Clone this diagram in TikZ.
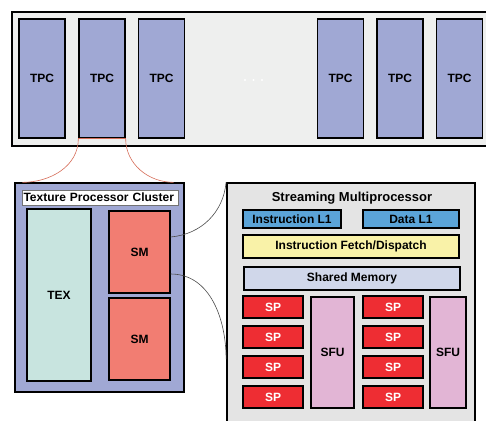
\documentclass[tikz,border=0pt]{standalone}
\usepackage{fontspec}
\setmainfont{Liberation Sans}
\usepackage{tikz}
\usetikzlibrary{positioning,calc}
\definecolor{gpuBack}  {RGB}{238,239,238}
\definecolor{tpcBlue}  {RGB}{160,168,212}
\definecolor{texGreen} {RGB}{200,228,223}
\definecolor{smRed}    {RGB}{242,125,114}
\definecolor{smpGray}  {RGB}{228,228,228}
\definecolor{cacheBlue}{RGB}{91,164,216}
\definecolor{fetchYel} {RGB}{249,242,168}
\definecolor{shmBlue}  {RGB}{208,215,234}
\definecolor{spRed}    {RGB}{238,45,51}
\definecolor{sfuPink}  {RGB}{226,181,213}
\definecolor{zoomRed}  {RGB}{214,110,90}

\begin{document}
\begin{tikzpicture}[x=1pt,y=-1pt,
          blk/.style={draw=black,line width=1.3pt,inner sep=0pt,
                      font=\bfseries\fontsize{12}{12}\selectfont},
          tpc/.style={blk,fill=tpcBlue,minimum width=46pt,minimum height=119pt},
          sm/.style={blk,fill=smRed,minimum width=61pt,minimum height=82pt},
          sp/.style={blk,fill=spRed,text=white,minimum width=60pt,minimum height=22pt},
          sfu/.style={blk,fill=sfuPink,minimum height=111pt}]
  \useasboundingbox (0,0) rectangle (486,420);
  % whole chip
  \node[draw=black,line width=1.5pt,fill=gpuBack,inner sep=0pt,
        minimum width=500pt,minimum height=134pt] (gpu) at (262,79) {};
  \foreach \i/\x in {1/42,2/102,3/161.5,4/340.5,5/400,6/459.5}
    \node[tpc] (tpc\i) at (\x,78.5) {TPC};
  \foreach \x in {245,253.5,262}
    \fill[white] (\x,80) circle (1.2pt);
  % one cluster
  \node[blk,fill=tpcBlue,minimum width=169pt,minimum height=209pt] (tpcc) at (99.5,287.5) {};
  \node[draw=black!55,line width=0.8pt,fill=white,inner xsep=1.5pt,inner ysep=0pt,
        text width=153pt,minimum height=15pt,align=left,
        font=\bfseries\fontsize{12}{12}\selectfont] (ttl) at (100,197.5) {Texture Processor Cluster};
  \node[blk,fill=texGreen,minimum width=64pt,minimum height=172pt] (tex) at (59,295) {TEX};
  \node[sm] (sm1) at (139.5,252) {SM};
  \node[sm] (sm2) at (139.5,339) {SM};
  % streaming multiprocessor
  \node[blk,fill=smpGray,line width=1.8pt,minimum width=248pt,minimum height=280pt] (smp) at (351,323) {};
  \node[font=\bfseries\fontsize{13}{13}\selectfont,inner sep=0pt] (smpt) at (352,198) {Streaming Multiprocessor};
  \node[blk,fill=cacheBlue,minimum width=98pt,minimum height=18pt] (il1) at (292,219) {Instruction L1};
  \node[blk,fill=cacheBlue,minimum width=96pt,minimum height=18pt] (dl1) at (411,219) {Data L1};
  \node[blk,fill=fetchYel,minimum width=216pt,minimum height=23pt] (fetch) at (351,246.5) {Instruction Fetch/Dispatch};
  \node[blk,fill=shmBlue,minimum width=216pt,minimum height=23pt] (shm) at (352,278.5) {Shared Memory};
  \foreach \k/\y in {1/307,2/337,3/367,4/397}{
    \node[sp] (spa\k) at (273,\y) {SP};
    \node[sp] (spb\k) at (393,\y) {SP};
  }
  \node[sfu,minimum width=43pt] (sfu1) at (332.5,352.5) {SFU};
  \node[sfu,minimum width=36pt] (sfu2) at (448,352.5) {SFU};
  % zoom lines
  \coordinate (zl) at ($(tpcc.north west)+(8,0)$);
  \coordinate (zr) at ($(tpcc.north east)+(-11,0)$);
  \draw[zoomRed,line width=0.6pt] (tpc2.south west) -- (tpc2.south east);
  \draw[zoomRed,line width=0.6pt] (tpc2.south west) to[out=-90,in=0] (zl);
  \draw[zoomRed,line width=0.6pt] (tpc2.south east) to[out=-90,in=180] (zr);
  \coordinate (sma) at ($(sm1.east)+(0,-15)$);
  \coordinate (smb) at ($(sm1.east)+(0,22)$);
  \coordinate (smpb) at ($(smp.north west)+(0,177)$);
  \draw[black!70,line width=0.6pt] (sma) to[out=5,in=-95] (smp.north west);
  \draw[black!70,line width=0.6pt] (smb) to[out=0,in=90] (smpb);
\end{tikzpicture}
\end{document}
